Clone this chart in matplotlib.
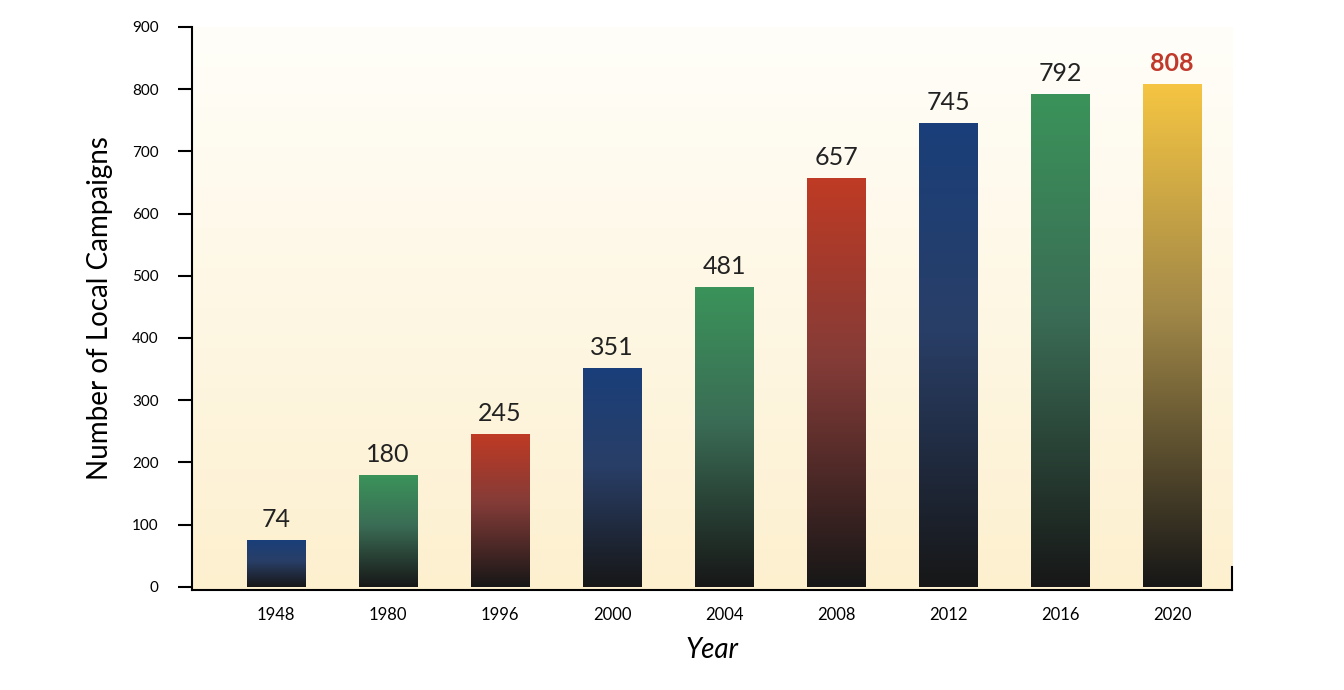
import numpy as np
import matplotlib
matplotlib.use("Agg")
import matplotlib.pyplot as plt
from matplotlib.colors import LinearSegmentedColormap, to_rgb

years = ["1948", "1980", "1996", "2000", "2004", "2008", "2012", "2016", "2020"]
campaigns = [74, 180, 245, 351, 481, 657, 745, 792, 808]
top_colors = ["#1a3f7a", "#3a935a", "#bf3a24", "#1a3f7a", "#3a935a",
              "#bf3a24", "#1a3f7a", "#3a935a", "#f5c542"]

plt.rcParams["font.family"] = ["Lato", "DejaVu Sans"]

fig = plt.figure(figsize=(13.44, 6.9), dpi=100)
ax = fig.add_axes([0.143, 0.145, 0.774, 0.816])

# background gradient
bg = LinearSegmentedColormap.from_list("bg", ["#fdf0cf", "#fffef9"])
ax.imshow(np.linspace(0, 1, 256).reshape(-1, 1), cmap=bg, origin="lower",
          aspect="auto", extent=[0, 1, 0, 1], transform=ax.transAxes, zorder=0)

width = 0.52
x = np.arange(len(years))
for i, v in enumerate(campaigns):
    top = np.array(to_rgb(top_colors[i]))
    mid = 0.55 * top + 0.45 * np.array(to_rgb("#3b3d4f"))
    cmap = LinearSegmentedColormap.from_list(
        f"b{i}", [(0, "#171717"), (0.55, mid), (1, top)])
    ax.imshow(np.linspace(0, 1, 256).reshape(-1, 1), cmap=cmap, origin="lower",
              aspect="auto", extent=[x[i] - width / 2, x[i] + width / 2, 0, v],
              zorder=2)
    if i == len(years) - 1:
        ax.text(x[i], v + 15, str(v), ha="center", va="bottom", fontsize=18,
                fontweight="bold", color="#c0392b")
    else:
        ax.text(x[i], v + 15, str(v), ha="center", va="bottom", fontsize=18,
                color="#222222")

ax.set_xlim(-0.75, 8.54)
ax.set_ylim(-5, 900)
ax.set_xticks(x)
ax.set_xticklabels(years, fontsize=12)
ax.set_yticks(range(0, 901, 100))
ax.tick_params(axis="y", labelsize=11, length=10, width=1.5, pad=14)
ax.tick_params(axis="x", length=0, pad=12)
for s in ["top", "right"]:
    ax.spines[s].set_visible(False)
ax.spines["left"].set_linewidth(1.5)
ax.spines["bottom"].set_linewidth(1.5)
ax.plot([1, 1], [0, 0.04], transform=ax.transAxes, color="black", lw=1.5,
        clip_on=False)

ax.set_ylabel("Number of Local Campaigns", fontsize=20, labelpad=14)
ax.set_xlabel("Year", fontsize=20, style="italic", labelpad=10)

fig.savefig("out.png", dpi=100)
